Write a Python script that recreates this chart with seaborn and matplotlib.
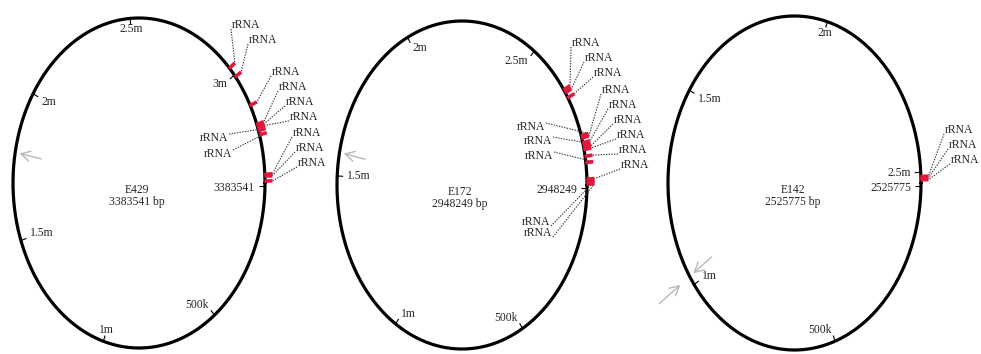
import numpy as np
import pandas as pd
import matplotlib
matplotlib.use("Agg")
import matplotlib.pyplot as plt
import seaborn as sns
from matplotlib.collections import LineCollection

# Genomes and their sizes (bp)
genomes = ["E429", "E172", "E142"]
genome_sizes = [3383541, 2948249, 2525775]

# rRNA gene positions (bp)
rrna_e429 = [2969000, 3007000, 3120000, 3188000, 3194000, 3200000,
             3210000, 3224000, 3355000, 3361000, 3377000]
rrna_e172 = [2658000, 2668000, 2685000, 2805000, 2812000, 2826000, 2834000,
             2840000, 2846000, 2866000, 2884000, 2931000, 2938000, 2945000]
rrna_e142 = [2510000, 2514000, 2518000]
rrna_label = "rRNA"

# Positions flagged by grey pointers (bp) and the side they point from
pointer_e429 = [1792000]
pointer_e429_side = ["in"]
pointer_e172 = [1568000]
pointer_e172_side = ["in"]
pointer_e142 = [1024000, 1024000]
pointer_e142_side = ["in", "out"]

# Scale ticks along each map
tick_values = [500000, 1000000, 1500000, 2000000, 2500000, 3000000]
tick_labels = ["500k", "1m", "1.5m", "2m", "2.5m", "3m"]

# ---- layout (pixel space of the figure) ----
W, H = 981, 354
centres = [(139, 183), (462, 185), (794.5, 183)]
semi_axes = [(126, 165), (125, 164), (126.5, 167)]

# where each rRNA label sits: (x, y, side) in the same order as the positions
label_layout = [
    [(232, 25, "R"), (249, 40, "R"), (272, 72, "R"), (279, 87, "R"),
     (286, 102, "R"), (290, 117, "R"), (228, 138, "L"), (232, 154, "L"),
     (293, 133, "R"), (296, 148, "R"), (298, 163, "R")],
    [(572, 43, "R"), (585, 58, "R"), (594, 73, "R"), (545, 127, "L"),
     (602, 90, "R"), (609, 105, "R"), (552, 141, "L"), (614, 120, "R"),
     (617, 135, "R"), (619, 150, "R"), (553, 156, "L"), (621, 165, "R"),
     (550, 222, "B"), (552, 233, "B")],
    [(945, 130, "R"), (949, 145, "R"), (951, 160, "R")],
]

rrna_sets = [rrna_e429, rrna_e172, rrna_e142]
pointer_sets = [(pointer_e429, pointer_e429_side),
                (pointer_e172, pointer_e172_side),
                (pointer_e142, pointer_e142_side)]

sns.set_theme(style="white")
plt.rcParams["font.family"] = ["Liberation Serif", "DejaVu Serif"]
FS = 8.4
RED = "#e2183a"

fig = plt.figure(figsize=(W / 100, H / 100), dpi=100)
ax = fig.add_axes([0, 0, 1, 1])


def on_map(bp, size, i, offset=0.0):
    """Map a genome coordinate to the figure, clockwise from 3 o'clock."""
    cx, cy = centres[i]
    a, b = semi_axes[i]
    t = 2 * np.pi * np.asarray(bp, dtype=float) / size
    return cx + (a + offset) * np.cos(t), cy + (b + offset) * np.sin(t)


def on_map_scaled(bp, size, i, r):
    cx, cy = centres[i]
    a, b = semi_axes[i]
    t = 2 * np.pi * bp / size
    return cx + r * a * np.cos(t), cy + r * b * np.sin(t)


# backbone outlines
frames = []
for i, (name, size) in enumerate(zip(genomes, genome_sizes)):
    bp = np.linspace(0, size, 721)
    x, y = on_map(bp, size, i)
    frames.append(pd.DataFrame({"genome": name, "bp": bp, "x": x, "y": y}))
outline = pd.concat(frames, ignore_index=True)
sns.lineplot(data=outline, x="x", y="y", units="genome", estimator=None,
             sort=False, color="black", linewidth=2.3, legend=False, ax=ax)

for i, (name, size) in enumerate(zip(genomes, genome_sizes)):
    cx, cy = centres[i]

    # scale ticks and their labels
    ticks = [(v, lab) for v, lab in zip(tick_values, tick_labels) if v < size]
    segs = []
    for v, lab in ticks:
        t = 2 * np.pi * v / size
        x0, y0 = on_map(v, size, i)
        x1, y1 = on_map(v, size, i, -6)
        segs.append([(x0, y0), (x1, y1)])
        c, s = np.cos(t), np.sin(t)
        ha = "left" if c < -0.3 else ("right" if c > 0.3 else "center")
        va = "bottom" if s > 0.3 else ("top" if s < -0.3 else "center")
        ax.text(x0 - 10 * c, y0 - 5 * s, lab, ha=ha, va=va, fontsize=FS)
    x0, y0 = on_map(size, size, i)
    x1, y1 = on_map(size, size, i, -6)
    segs.append([(x0, y0 + 3), (x1, y1 + 3)])
    ax.text(x0 - 10, y0 - 1, str(size), ha="right", va="top", fontsize=FS)
    ax.add_collection(LineCollection(segs, colors="black", linewidths=0.8))

    # genome name and length in the middle
    ax.text(cx - 2, cy + 13, f"{name}\n{size} bp", ha="center", va="center",
            fontsize=FS, linespacing=0.9)

    # rRNA features with their leader lines
    feats, leaders = [], []
    for bp, (lx, ly, side) in zip(rrna_sets[i], label_layout[i]):
        xa, ya = on_map(bp, size, i, -0.5)
        xb, yb = on_map(bp, size, i, 7.5)
        feats.append([(xa, ya), (xb, yb)])
        if side == "R":
            ax.text(lx, ly, rrna_label, ha="left", va="center", fontsize=FS)
            start = (lx - 1, ly + 4)
        elif side == "L":
            ax.text(lx, ly, rrna_label, ha="right", va="center", fontsize=FS)
            start = (lx + 1, ly - 4)
        else:
            ax.text(lx, ly, rrna_label, ha="right", va="center", fontsize=FS)
            start = (lx + 1, ly + 4)
        leaders.append([start, (xb, yb)])
    ax.add_collection(LineCollection(leaders, colors="#333333",
                                     linewidths=0.8, linestyles=(0, (1.2, 1.2))))
    ax.add_collection(LineCollection(feats, colors=RED, linewidths=2.6,
                                     capstyle="butt"))

    # grey pointers
    for bp, side in zip(*pointer_sets[i]):
        if side == "in":
            tail = on_map_scaled(bp, size, i, 0.79)
            head = on_map_scaled(bp, size, i, 0.965)
        else:
            tail = on_map_scaled(bp, size, i, 1.29)
            head = on_map_scaled(bp, size, i, 1.09)
        ax.annotate("", xy=head, xytext=tail,
                    arrowprops=dict(arrowstyle="->,head_length=0.55,head_width=0.3",
                                    color="#b8b8b8", lw=1.0,
                                    shrinkA=0, shrinkB=0))

ax.set_xlim(0, W)
ax.set_ylim(H, 0)
ax.set_xlabel("")
ax.set_ylabel("")
ax.axis("off")

fig.savefig("out.png", dpi=100, facecolor="white")
